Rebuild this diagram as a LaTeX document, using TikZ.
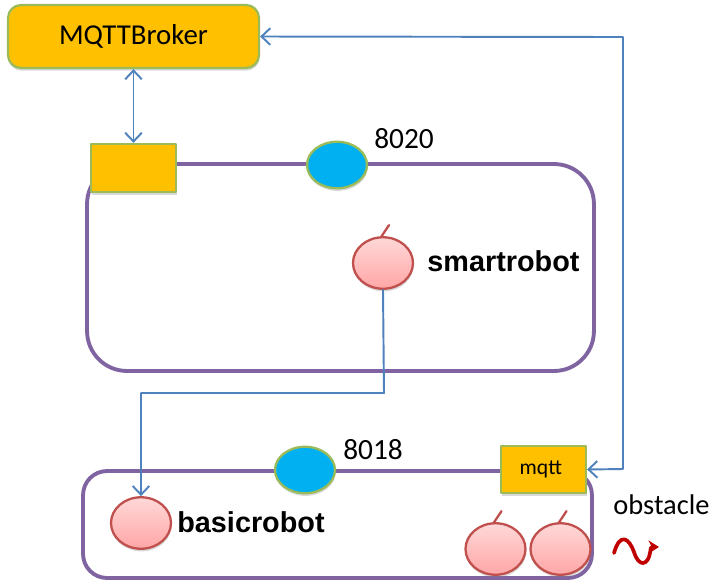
\documentclass[tikz,border=0pt]{standalone}
\usepackage{fontspec}
\setmainfont{Carlito}
\setsansfont{Liberation Sans}
\usetikzlibrary{arrows.meta}
\usetikzlibrary{shapes.geometric}
\usetikzlibrary{shadows}
\definecolor{boxfill}{HTML}{FFC000}
\definecolor{boxline}{HTML}{9BBB59}
\definecolor{portfill}{HTML}{00B0F0}
\definecolor{framecol}{HTML}{8064A2}
\definecolor{linkcol}{HTML}{4F81BD}
\definecolor{robotline}{HTML}{C0504D}
\definecolor{robottop}{HTML}{FFD8D8}
\definecolor{robotbot}{HTML}{FFA6A6}
\definecolor{obstcol}{HTML}{C00000}
\tikzset{
  softshadow/.style={drop shadow={shadow xshift=0.3pt,shadow yshift=-1.5pt,opacity=.3}},
  frame/.style={draw=framecol,line width=2.2pt,rectangle,inner sep=0pt},
  yellowbox/.style={draw=boxline,line width=1.3pt,fill=boxfill,rectangle,inner sep=0pt,softshadow},
  portdot/.style={ellipse,draw=boxline,line width=1.3pt,fill=portfill,inner sep=0pt,minimum width=1.2cm,minimum height=0.93cm,softshadow},
  robot/.style={ellipse,draw=robotline,line width=1.3pt,top color=robottop,bottom color=robotbot,inner sep=0pt,minimum width=1.2cm,minimum height=1.03cm,softshadow},
  stem/.style={draw=robotline,line width=1.3pt},
  link/.style={draw=linkcol,line width=1.1pt,arrows={Straight Barb[length=5pt,width=9.5pt]-Straight Barb[length=5pt,width=9.5pt]}},
  portnum/.style={font=\fontsize{16.7}{18}\selectfont,inner sep=0pt},
  robotname/.style={font=\sffamily\bfseries\fontsize{16.4}{18}\selectfont,inner sep=0pt}
}
\begin{document}
\begin{tikzpicture}[line cap=round,line join=round,x=0.02cm,y=-0.02cm]
\useasboundingbox (0,0) rectangle (728,586);
% contexts
\node[frame,rounded corners=0.8cm,minimum width=10.14cm,minimum height=4.14cm] (smartframe) at (340.5,267.5) {};
\node[frame,rounded corners=0.48cm,minimum width=10.18cm,minimum height=2.14cm] (basicframe) at (337.5,524.5) {};
% broker and ports
\node[yellowbox,rounded corners=0.26cm,minimum width=5.02cm,minimum height=1.26cm,font=\fontsize{16.4}{18}\selectfont] (broker) at (133.5,36.5) {MQTTBroker};
\node[yellowbox,minimum width=1.7cm,minimum height=0.96cm] (smartmqtt) at (133.5,168) {};
\node[yellowbox,minimum width=1.7cm,minimum height=0.94cm,font=\fontsize{12.3}{14}\selectfont] (basicmqtt) at (543.5,469.5) {\hspace*{-3pt}mqtt};
\node[portdot] (smartport) at (337,165) {};
\node[portdot] (basicport) at (305,470) {};
\node[portnum] (smartnum) at (404,139) {8020};
\node[portnum] (basicnum) at (373,450) {8018};
% actors
\node[robot] (smartrobot) at (383,263) {};
\node[robot] (basicrobot) at (141,523) {};
\node[robot] (robotA) at (495.5,549) {};
\node[robot] (robotB) at (560.5,549) {};
\draw[stem] (smartrobot.north) ++(-2,1) -- ++(8,-12);
\draw[stem] (robotA.north) ++(-2,1) -- ++(8,-12);
\draw[stem] (robotB.north) ++(-2,1) -- ++(8,-12);
\node[robotname] (smartname) at (503.5,261) {smartrobot};
\node[robotname] (basicname) at (251,522) {basicrobot};
% links
\coordinate (bendA) at (623,37);
\coordinate (bendB) at (623,469);
\coordinate (bendC) at (384,393);
\coordinate (bendD) at (141,393);
\draw[link] (broker.south) -- (smartmqtt.north);
\draw[link] (broker.east) -- (bendA) -- (bendB) -- (basicmqtt.east);
\draw[link,arrows={-Straight Barb[length=5pt,width=9.5pt]}] (smartrobot.south) -- (bendC) -- (bendD) -- (basicrobot.north);
% obstacle
\node[inner sep=0pt,font=\fontsize{16.2}{18}\selectfont] (obstacle) at (661.5,505) {obstacle};
\coordinate (wavestart) at (614,553);
\coordinate (waveend) at (659,547);
\draw[draw=obstcol,line width=2.1pt,-{Stealth[length=6pt,width=7.5pt]}] (wavestart) .. controls (620,532) and (629,538) .. (634,552) .. controls (639,568) and (648,565) .. (650,553) .. controls (651,547) .. (waveend);
\end{tikzpicture}
\end{document}
